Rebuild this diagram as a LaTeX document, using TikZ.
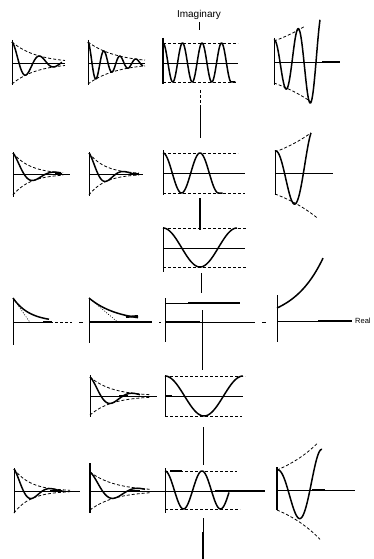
\documentclass[tikz,border=0pt]{standalone}
\usepackage{fontspec}
\setsansfont{Liberation Sans}
\begin{document}
\begin{tikzpicture}[x=1pt,y=-1pt,
  ax/.style={line width=0.8pt},
  rsp/.style={line width=1.5pt, line join=round},
  env/.style={line width=0.8pt, dash pattern=on 3pt off 2pt},
  thk/.style={line width=2pt},
  dotl/.style={line width=0.6pt, dash pattern=on 1pt off 1.5pt},
  lbl/.style={font=\sffamily\fontsize{10}{12}\selectfont, inner sep=0pt}]
\useasboundingbox (0,0) rectangle (374,559);

% ---------- labels ----------
\node[lbl] (imag) at (199,15) {Imaginary};
\node[lbl, anchor=west, font=\sffamily\fontsize{7.5}{9}\selectfont] (real) at (355,321) {Real};

% ---------- central imaginary axis ----------
\draw[ax] (199,22)--(199,30);
\draw[env] (200,90)--(200,107);
\draw[ax] (200,107)--(200,138);
\draw[thk] (200,198)--(200,230);
\draw[ax] (201,273)--(201,293);
\draw[ax] (202,310)--(202,370);
\draw[ax] (203,427)--(203,465);
\draw[ax] (203,518)--(203,532);
\draw[thk] (203,532)--(203,559);

% ================= ROW 1 =================
% col1
\draw[ax] (12,40)--(12,85); \draw[ax] (12,63)--(65,63);
\draw[env] plot[domain=0:53,samples=40] ({12+\x},{63-21*exp(-0.04*\x)});
\draw[env] plot[domain=0:53,samples=40] ({12+\x},{63+21*exp(-0.04*\x)});
\draw[rsp] plot[domain=0:50,samples=100] ({12+\x},{63-21*exp(-0.04*\x)*cos(12.86*\x)});
% col2
\draw[ax] (88,40)--(88,85); \draw[ax] (88,63)--(145,63);
\draw[env] plot[domain=0:57,samples=40] ({88+\x},{63-21*exp(-0.035*\x)});
\draw[env] plot[domain=0:57,samples=40] ({88+\x},{63+21*exp(-0.035*\x)});
\draw[rsp] plot[domain=0:55,samples=120] ({88+\x},{63-21*exp(-0.035*\x)*cos(22.5*\x)});
% col3
\draw[rsp] (163,38)--(163,84); \draw[ax] (163,63)--(238,63);
\draw[env] (163,43)--(238,43); \draw[env] (163,82)--(236,82);
\draw[rsp] plot[domain=0:68.25,samples=150] ({163+\x},{62.5-19.5*cos(18.46*\x)}) -- ++(4,0);
% col4
\draw[ax] (274,38)--(274,85); \draw[ax] (274,62)--(340,62); \draw[thk] (322,62)--(340,62);
\draw[env] plot[domain=0:31,samples=30] ({274+\x},{62-21*exp(0.0173*\x)});
\draw[env] plot[domain=0:37,samples=30] ({274+\x},{62+21*exp(0.0173*\x)});
\draw[rsp] plot[domain=0:46,samples=100] ({274+\x},{62-22*exp(0.0173*\x)*cos(15*\x)});

% ================= ROW 2 =================
% col1
\draw[ax] (13,152)--(13,197); \draw[ax] (13,174)--(70,174);
\draw[env] plot[domain=0:50,samples=40] ({13+\x},{174-21*exp(-0.057*\x)});
\draw[env] plot[domain=0:50,samples=40] ({13+\x},{174+21*exp(-0.057*\x)});
\draw[rsp] plot[domain=0:48,samples=80] ({13+\x},{174-21*exp(-0.057*\x)*cos(8.2*\x)});
\draw[thk] (55,174)--(62,174);
% col2
\draw[ax] (89,152)--(89,196); \draw[ax] (89,174)--(143,174);
\draw[env] plot[domain=0:50,samples=40] ({89+\x},{174-21*exp(-0.061*\x)});
\draw[env] plot[domain=0:50,samples=40] ({89+\x},{174+21*exp(-0.061*\x)});
\draw[rsp] plot[domain=0:48,samples=80] ({89+\x},{174-21*exp(-0.061*\x)*cos(10*\x)});
\draw[thk] (131,174)--(139,174);
% col3
\draw[ax] (163,150)--(163,195); \draw[ax] (163,173)--(245,173);
\draw[env] (163,153)--(238,153); \draw[env] (163,193)--(245,193);
\draw[rsp] plot[domain=0:55.5,samples=100] ({163+\x},{173-20*cos(9.73*\x)}) -- ++(4,0);
% col4
\draw[ax] (275,150)--(275,195); \draw[ax] (275,173)--(333,173);
\draw[env] plot[domain=0:36,samples=30] ({275+\x},{173-21*exp(0.018*\x)});
\draw[env] plot[domain=0:42,samples=30] ({275+\x},{173+21*exp(0.018*\x)});
\draw[rsp] plot[domain=0:36,samples=80] ({275+\x},{173-22*exp(0.018*\x)*cos(9.5*\x)});

% ================= ROW 3 =================
\draw[ax] (163,227)--(163,272); \draw[ax] (163,248)--(245,248);
\draw[env] (163,228)--(247,228); \draw[env] (163,267)--(247,267);
\draw[rsp] plot[domain=0:74,samples=100] ({163+\x},{247.5-19.5*cos(4.865*\x)});

% ================= ROW 4 (real axis) =================
% col1
\draw[ax] (13,298)--(13,345); \draw[ax] (13,322)--(50,322);
\draw[env] (50,322)--(72,322); \draw[ax] (79,322)--(83,322);
\draw[thk] (43,322)--(52,322);
\draw[dotl] (13,298)--(29.7,322);
\draw[rsp] plot[domain=0:36,samples=60] ({13+\x},{322-24*exp(-0.06*\x)});
% col2
\draw[ax] (89,298)--(89,343); \draw[thk] (89,322)--(152,322);
\draw[dotl] (89,298)--(117.6,322);
\draw[rsp] plot[domain=0:49,samples=60] ({89+\x},{322-24*exp(-0.035*\x)});
\draw[thk] (126,317)--(138,316);
\draw[ax] (159,322)--(161,322);
% col3
\draw[ax] (165,298)--(165,342);
\draw[ax] (165,303)--(188,303); \draw[thk] (188,303)--(240,303);
\draw[thk] (165,322)--(200,322); \draw[ax] (200,322)--(255,322);
\draw[ax] (262,322)--(266,322);
% col4
\draw[ax] (277,295)--(277,342); \draw[ax] (277,321)--(352,321); \draw[thk] (318,321)--(352,321);
\draw[rsp] plot[domain=0:46,samples=60] ({277+\x},{322-14*exp(0.033*\x)});

% ================= ROW 5 =================
% col2
\draw[ax] (90,375)--(90,417); \draw[ax] (90,396)--(157,396);
\draw[env] plot[domain=0:60,samples=40] ({90+\x},{396-19*exp(-0.045*\x)});
\draw[env] plot[domain=0:60,samples=40] ({90+\x},{396+19*exp(-0.045*\x)});
\draw[rsp] plot[domain=0:50,samples=80] ({90+\x},{396-19*exp(-0.045*\x)*cos(8.2*\x)});
\draw[thk] (119,396)--(128,396);
% col3
\draw[ax] (165,375)--(165,417); \draw[ax] (165,396)--(243,396); \draw[thk] (165,396)--(172,396);
\draw[env] (165,376)--(245,376); \draw[env] (165,416)--(242,416);
\draw[rsp] plot[domain=0:78,samples=100] ({165+\x},{396-20*cos(4.615*\x)});

% ================= ROW 6 =================
% col1
\draw[ax] (14,468)--(14,513); \draw[ax] (14,491)--(80,491);
\draw[env] plot[domain=0:56,samples=40] ({14+\x},{491-22*exp(-0.06*\x)});
\draw[env] plot[domain=0:56,samples=40] ({14+\x},{491+22*exp(-0.06*\x)});
\draw[rsp] plot[domain=0:50,samples=80] ({14+\x},{491-22*exp(-0.06*\x)*cos(9.5*\x)});
\draw[thk] (50,491)--(62,491);
% col2
\draw[rsp] (90,463)--(90,513); \draw[ax] (90,491)--(158,491);
\draw[env] plot[domain=0:60,samples=40] ({90+\x},{491-19*exp(-0.04*\x)});
\draw[env] plot[domain=0:60,samples=40] ({90+\x},{491+19*exp(-0.04*\x)});
\draw[rsp] plot[domain=0:55,samples=80] ({90+\x},{491-19*exp(-0.04*\x)*cos(7.2*\x)});
\draw[thk] (130,491)--(140,491);
% col3
\draw[ax] (165,468)--(165,513);
\draw[ax] (150,491)--(215,491); \draw[thk] (215,491)--(265,491);
\draw[env] (165,471)--(237,471); \draw[env] (165,509)--(240,509);
\draw[thk] (170,471)--(182,471);
\draw[rsp] plot[domain=0:64,samples=100] ({165+\x},{490-19*cos(9.73*\x)});
% col4
\draw[rsp] (277,467)--(277,510); \draw[ax] (277,490)--(355,490); \draw[thk] (312,490)--(325,490);
\draw[env] plot[domain=0:40,samples=30] ({277+\x},{490-20*exp(0.021*\x)});
\draw[env] plot[domain=0:43,samples=30] ({277+\x},{490+20*exp(0.021*\x)});
\draw[rsp] plot[domain=0:45,samples=80] ({277+\x},{490-20*exp(0.016*\x)*cos(8.2*\x)});
\end{tikzpicture}
\end{document}
